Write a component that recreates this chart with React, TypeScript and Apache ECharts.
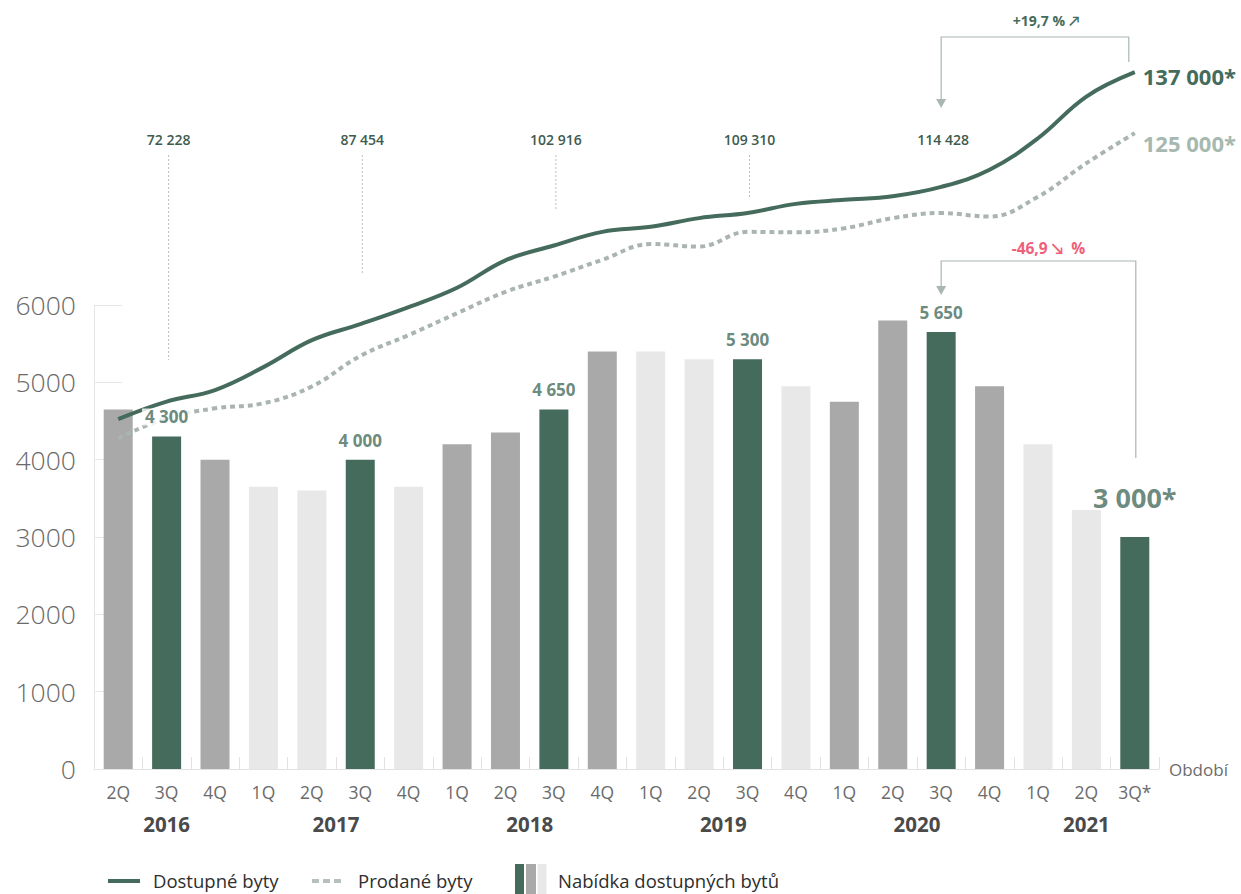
import React, { useEffect, useRef } from "react";
import * as echarts from "echarts";

// ---- data ----
const quarters = ["2Q","3Q","4Q","1Q","2Q","3Q","4Q","1Q","2Q","3Q","4Q","1Q","2Q","3Q","4Q","1Q","2Q","3Q","4Q","1Q","2Q","3Q*"];
const years = [2016,2016,2016,2017,2017,2017,2017,2018,2018,2018,2018,2019,2019,2019,2019,2020,2020,2020,2020,2021,2021,2021];
const offerValues = [4650,4300,4000,3650,3600,4000,3650,4200,4350,4650,5400,5400,5300,5300,4950,4750,5800,5650,4950,4200,3350,3000];
const availableValues = [68800,72228,74500,79000,84300,87454,90800,94600,100000,102916,105600,106600,108300,109310,111100,111900,112600,114428,117800,124000,132200,137000];
const soldValues = [65000,69000,70900,71900,75200,81200,85300,89600,93800,96800,100100,103200,102700,105600,105500,106300,108300,109300,108600,112500,119100,125000];
const yTicks = [0, 1000, 2000, 3000, 4000, 5000, 6000];
const totalIndices = [1, 5, 9, 13, 17];
const availableEndLabel = "137 000*";
const soldEndLabel = "125 000*";
const offerEndLabel = "3 000*";
const upChange = "+19,7 % ↗";
const downChange = "-46,9 ↘  %";

// ---- style ----
const FONT = "'Open Sans', Lato, sans-serif";
const DARK = "#456b5c";
const MID = "#a9a9a9";
const LIGHT = "#e8e8e8";
const SOLD = "#aab5af";
const BRACKET = "#a9b7b0";
const dottedEnds = [360, 275, 210, 197, null];

const fmt = (v: number) => String(v).replace(/\B(?=(\d{3})+(?!\d))/g, " ");

function barColor(i: number) {
  if (quarters[i].startsWith("3Q")) return DARK;
  return years[i] % 2 === 0 ? MID : LIGHT;
}

export default function App() {
  const ref = useRef<HTMLDivElement>(null);
  useEffect(() => {
    if (!ref.current) return;
    const chart = echarts.init(ref.current, null, { renderer: "svg" });
    const last = offerValues.length - 1;
    const option: any = {
      animation: false,
      textStyle: { fontFamily: FONT },
      grid: [
        { left: 94, right: 82, top: 305, bottom: 125 },
        { left: 94, right: 82, top: 36, bottom: 125 },
      ],
      xAxis: [
        {
          type: "category",
          gridIndex: 0,
          data: quarters,
          boundaryGap: true,
          axisLine: { lineStyle: { color: "#e2e2e2", width: 1 } },
          axisTick: { show: true, inside: true, length: 12, interval: 0, lineStyle: { color: "#e2e2e2" } },
          axisLabel: { interval: 0, margin: 14, fontSize: 17.5, color: "#6b6b6b", fontFamily: FONT },
          name: "Období",
          nameLocation: "end",
          nameGap: 10,
          nameTextStyle: { fontSize: 17, color: "#6b6b6b", fontFamily: FONT, padding: [0, 0, 10, 0] },
        },
        { type: "category", gridIndex: 1, data: quarters, boundaryGap: true, show: false },
      ],
      yAxis: [
        {
          type: "value",
          gridIndex: 0,
          min: yTicks[0],
          max: yTicks[yTicks.length - 1],
          interval: 1000,
          splitLine: { show: false },
          axisLine: { show: true, lineStyle: { color: "#e6e6e6" } },
          axisTick: { show: true, inside: true, length: 28, lineStyle: { color: "#e6e6e6" } },
          axisLabel: {
            margin: 18,
            fontSize: 26.5,
            fontWeight: 300,
            color: "#6a6a6a",
            fontFamily: FONT,
            formatter: (v: number) => String(v),
          },
        },
        { type: "value", gridIndex: 1, min: 0, max: 144100, show: false },
      ],
      series: [
        {
          type: "bar",
          xAxisIndex: 0,
          yAxisIndex: 0,
          barWidth: 29,
          z: 2,
          data: offerValues.map((v, i) => ({ value: v, itemStyle: { color: barColor(i) } })),
        },
        {
          type: "line",
          name: "Prodané byty",
          xAxisIndex: 1,
          yAxisIndex: 1,
          data: soldValues,
          smooth: 0.4,
          symbol: "none",
          z: 3,
          lineStyle: { color: SOLD, width: 4, type: [5, 4] },
          endLabel: {
            show: true,
            formatter: soldEndLabel,
            distance: 8,
            offset: [0, 10],
            fontSize: 22,
            fontWeight: 700,
            color: "#a7b9af",
            fontFamily: FONT,
          },
        },
        {
          type: "line",
          name: "Dostupné byty",
          xAxisIndex: 1,
          yAxisIndex: 1,
          data: availableValues,
          smooth: 0.4,
          symbol: "none",
          z: 4,
          lineStyle: { color: DARK, width: 4 },
          endLabel: {
            show: true,
            formatter: availableEndLabel,
            distance: 8,
            offset: [0, 4],
            fontSize: 22,
            fontWeight: 700,
            color: DARK,
            fontFamily: FONT,
          },
        },
        {
          type: "scatter",
          xAxisIndex: 0,
          yAxisIndex: 0,
          symbolSize: 0,
          z: 6,
          silent: true,
          data: offerValues
            .map((v, i) => ({ i, v }))
            .filter((d) => quarters[d.i].startsWith("3Q"))
            .map((d) => ({
              value: [d.i, d.v],
              label: {
                show: true,
                position: "top",
                distance: d.i === last ? 26 : 11,
                formatter: d.i === last ? offerEndLabel : fmt(d.v),
                fontSize: d.i === last ? 27 : 17,
                fontWeight: 700,
                color: DARK,
                fontFamily: FONT,
                backgroundColor: d.i === last ? "transparent" : "#fff",
                padding: [0, 3],
              },
            })),
        },
      ],
    };
    chart.setOption(option);

    const px = (i: number) => {
      const a = Math.floor(i);
      const b = Math.ceil(i);
      const pa = chart.convertToPixel({ xAxisIndex: 0 } as any, a) as number;
      const pb = chart.convertToPixel({ xAxisIndex: 0 } as any, b) as number;
      return pa + (pb - pa) * (i - a);
    };
    const pyLine = (v: number) => chart.convertToPixel({ yAxisIndex: 1 } as any, v) as number;
    const pyBar = (v: number) => chart.convertToPixel({ yAxisIndex: 0 } as any, v) as number;

    const g: any[] = [];
    // year labels
    const uniqYears = Array.from(new Set(years));
    uniqYears.forEach((y) => {
      const idx = years.map((yy, i) => (yy === y ? i : -1)).filter((i) => i >= 0);
      const c = (idx[0] + idx[idx.length - 1]) / 2;
      g.push({
        type: "text",
        x: px(c),
        y: 824,
        style: { text: String(y), fontSize: 20.5, fontWeight: 700, fill: "#4a4a4a", fontFamily: FONT, align: "center", verticalAlign: "middle" },
      });
    });
    // year totals
    totalIndices.forEach((ti, k) => {
      const x = px(ti) + 2;
      g.push({
        type: "text",
        x,
        y: 139,
        style: { text: fmt(availableValues[ti]), fontSize: 14, fontWeight: 600, fill: "#3e5b4e", fontFamily: FONT, align: "center", verticalAlign: "middle" },
      });
      const end = dottedEnds[k];
      if (end != null) {
        g.push({
          type: "line",
          shape: { x1: x, y1: 155, x2: x, y2: end },
          style: { stroke: "#bdbdbd", lineWidth: 1, lineDash: [2, 2] },
        });
      }
    });
    // top bracket
    const xA = px(17);
    const xB = px(last) - 6;
    const yTopH = 37;
    const yEnd = pyLine(availableValues[last]);
    g.push({ type: "polyline", shape: { points: [[xA, 100], [xA, yTopH], [xB, yTopH], [xB, yEnd - 10]] }, style: { stroke: BRACKET, lineWidth: 1.2, fill: null } });
    g.push({ type: "polygon", shape: { points: [[xA - 5, 99], [xA + 5, 99], [xA, 108]] }, style: { fill: BRACKET } });
    g.push({
      type: "text",
      x: (xA + xB) / 2 + 11,
      y: 20,
      style: { text: upChange, fontSize: 14, fontWeight: 700, fill: DARK, fontFamily: FONT, align: "center", verticalAlign: "middle" },
    });
    // lower bracket
    const xC = px(17);
    const xD = px(last) + 1;
    const yLowH = 261;
    const yTip = pyBar(offerValues[17]) - 37;
    g.push({ type: "polyline", shape: { points: [[xC, yTip - 8], [xC, yLowH], [xD, yLowH], [xD, 458]] }, style: { stroke: BRACKET, lineWidth: 1.2, fill: null } });
    g.push({ type: "polygon", shape: { points: [[xC - 5, yTip - 9], [xC + 5, yTip - 9], [xC, yTip]] }, style: { fill: BRACKET } });
    g.push({
      type: "text",
      x: (xC + xD) / 2 + 10,
      y: 248,
      style: { text: downChange, fontSize: 15.5, fontWeight: 700, fill: "#ef5f79", fontFamily: FONT, align: "center", verticalAlign: "middle" },
    });
    // legend
    const ly = 881;
    const ty = 880;
    g.push({ type: "line", shape: { x1: 108, y1: ly, x2: 140, y2: ly }, style: { stroke: DARK, lineWidth: 4 } });
    g.push({ type: "text", x: 153, y: ty, style: { text: "Dostupné byty", fontSize: 18.5, fill: "#2e2e2e", fontFamily: FONT, verticalAlign: "middle" } });
    g.push({ type: "line", shape: { x1: 312, y1: ly, x2: 341, y2: ly }, style: { stroke: "#b6c1bb", lineWidth: 4, lineDash: [7, 4] } });
    g.push({ type: "text", x: 358, y: ty, style: { text: "Prodané byty", fontSize: 18.5, fill: "#2e2e2e", fontFamily: FONT, verticalAlign: "middle" } });
    g.push({ type: "rect", shape: { x: 515, y: 864, width: 9, height: 30 }, style: { fill: DARK } });
    g.push({ type: "rect", shape: { x: 526, y: 864, width: 10, height: 30 }, style: { fill: MID } });
    g.push({ type: "rect", shape: { x: 537.5, y: 864, width: 9, height: 30 }, style: { fill: LIGHT } });
    g.push({ type: "text", x: 558, y: ty, style: { text: "Nabídka dostupných bytů", fontSize: 18.5, fill: "#2e2e2e", fontFamily: FONT, verticalAlign: "middle" } });

    chart.setOption({ graphic: g });
    return () => chart.dispose();
  }, []);

  return <div ref={ref} style={{ position: "absolute", left: 0, top: 0, width: 1241, height: 894, background: "#fff" }} />;
}
